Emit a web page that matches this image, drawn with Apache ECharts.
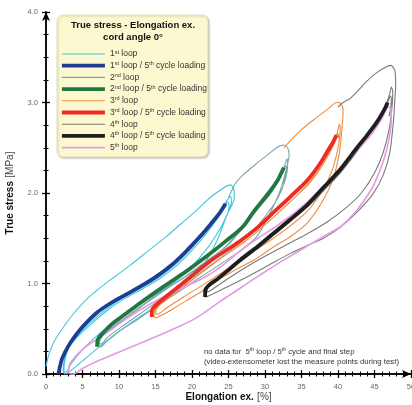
<!DOCTYPE html>
<html><head><meta charset="utf-8">
<script src="https://cdn.jsdelivr.net/npm/echarts@6/dist/echarts.min.js"></script>
<style>html,body{margin:0;padding:0;background:#fff}#c{width:412px;height:405px}</style>
</head><body><div id="c"></div>
<script>
// ---- data (x = elongation %, y = true stress MPa) ----
const seriesNames = ['1st loop','1st loop / 5th cycle loading','2nd loop','2nd loop / 5th cycle loading','3rd loop','3rd loop / 5th cycle loading','4th loop','4th loop / 5th cycle loading','5th loop'];

const loop1 = [[0,0.08],[0.4,0.22],[1.2,0.37],[2.4,0.52],[3.7,0.66],[5.5,0.82],[7.5,0.96],[9.5,1.08],[11.5,1.2],[14,1.36],[16.5,1.52],[18.5,1.66],[20.5,1.8],[22.5,1.95],[24.2,2.05],[25.2,2.09],[25.7,2.05],[25.8,1.95],
 [24.8,1.76],[23.4,1.47],[21.5,1.2],[19,1.0],[16,0.8],[13,0.64],[10.5,0.5],[7,0.28],[4.5,0.11],[3.1,0.02],[2.6,0.0],[2.35,0.04],
 [2.5,0.15],[3.0,0.29],[4.1,0.41],[5.7,0.54],[8,0.7],[10.5,0.84],[13,0.95],[15.5,1.07],[18,1.23],[20.5,1.44],[22.5,1.64],[24.2,1.84],[25,1.94],[25.3,1.96],[25.4,1.9],
 [24.8,1.76],[23.8,1.6],[22,1.38],[19.5,1.15],[17,0.98],[14,0.83],[11,0.67],[8,0.49],[5.5,0.31],[3.5,0.12],[2.7,0.02],[2.45,0.04],
 [2.6,0.16],[3.2,0.3],[4.3,0.41],[5.9,0.53],[8.2,0.69],[10.7,0.83],[13.2,0.94],[15.7,1.06],[18.2,1.22],[20.7,1.43],[22.7,1.63],[24.3,1.82],[24.9,1.9],[25.1,1.86],[24.6,1.72],[23.6,1.57]];
const loop1c5 = [[1.7,0.0],[1.85,0.06],[2.2,0.17],[3,0.3],[4,0.42],[5.1,0.53],[7,0.68],[9,0.79],[11,0.88],[13,0.97],[15,1.07],[17,1.19],[19,1.34],[21,1.51],[22.5,1.65],[23.8,1.78],[24.6,1.88]];
const loop2 = [[25.0,1.95],[25.4,2.02],[25.9,2.1],[27,2.2],[28.9,2.33],[30.5,2.43],[31.6,2.5],[32.5,2.53],[33.1,2.5],[33.3,2.42],[33.0,2.29],[32.1,2.03],[30.7,1.78],[28.9,1.52],[26.6,1.36],[24,1.22],[21,1.06],[18,0.9],[15,0.74],[12.5,0.6],[10,0.47],[8.3,0.36],[7.5,0.3],[7.25,0.32],
 [7.4,0.38],[8.5,0.48],[10.5,0.6],[13,0.75],[16,0.92],[19.3,1.09],[22,1.25],[24.5,1.4],[26.6,1.59],[28.5,1.79],[30.5,1.99],[32.2,2.2],[32.8,2.33],[33.0,2.38],[33.1,2.3],
 [32.8,2.15],[31.8,1.95],[30.2,1.76],[28,1.55],[25.5,1.38],[22.5,1.2],[19.5,1.03],[16.5,0.87],[13.5,0.7],[10.5,0.53],[8.5,0.41],[7.5,0.33],[7.35,0.34],
 [7.5,0.4],[9,0.5],[11,0.62],[13.5,0.77],[16.5,0.94],[19.8,1.11],[22.5,1.27],[25,1.43],[27,1.62],[29,1.82],[31,2.02],[32.4,2.22],[32.8,2.3],[32.9,2.25],[32.5,2.1]];
const loop2c5 = [[7.0,0.3],[7.1,0.38],[8,0.47],[9,0.55],[10.5,0.64],[13,0.79],[16,0.96],[19.3,1.14],[22,1.3],[24.5,1.46],[27,1.63],[28.5,1.8],[30.5,2.0],[31.8,2.15],[32.4,2.25],[32.6,2.28]];
const loop3 = [[32.6,2.5],[33.5,2.58],[35,2.7],[37,2.83],[38.8,2.94],[39.8,3.0],[40.4,2.99],[40.7,2.9],[40.6,2.77],[40.2,2.45],[39.3,2.15],[37.8,1.9],[35.8,1.67],[33.5,1.52],[31.1,1.4],[28.5,1.26],[26.6,1.18],[24,1.06],[21.5,0.92],[19,0.8],[17,0.7],[15.6,0.64],[15.0,0.62],[14.8,0.65],
 [15,0.72],[16.5,0.82],[18.8,0.96],[21,1.1],[23.3,1.24],[26.8,1.44],[29.2,1.59],[31.4,1.75],[33.8,1.93],[36,2.1],[37.8,2.3],[39.5,2.55],[40.0,2.7],[40.2,2.76],[40.3,2.7],
 [40.0,2.5],[39.2,2.25],[37.8,2.02],[35.8,1.8],[33.5,1.64],[30.8,1.48],[28,1.33],[25,1.17],[22,1.01],[19,0.86],[16.5,0.73],[15.2,0.66],[15.0,0.67],
 [15.3,0.74],[17,0.85],[19.2,0.99],[21.5,1.13],[24,1.28],[27.2,1.46],[29.6,1.62],[31.8,1.78],[34.2,1.96],[36.3,2.14],[38,2.33],[39.6,2.58],[40.0,2.66],[40.1,2.6]];
const loop3c5 = [[14.5,0.63],[14.5,0.7],[15.2,0.77],[16.5,0.86],[18.4,0.98],[20.5,1.12],[22.9,1.27],[26.6,1.47],[29,1.62],[31.1,1.78],[33.5,1.96],[35.8,2.14],[37.5,2.32],[38.7,2.48],[39.3,2.56],[39.8,2.64]];
const loop4 = [[40.0,2.95],[40.7,3.0],[41.6,3.04],[42.6,3.12],[44,3.24],[45.3,3.33],[46.5,3.39],[47.2,3.41],[47.8,3.35],[47.9,3.2],[47.8,3.05],[47.6,2.8],[47.1,2.45],[46.2,2.2],[44.8,1.99],[42.5,1.78],[40.3,1.62],[38,1.5],[35.8,1.42],[33.4,1.33],[30,1.18],[27,1.05],[24.5,0.95],[22.5,0.87],[21.9,0.85],[21.8,0.9],
 [22.2,0.97],[23.8,1.06],[26.8,1.25],[29.2,1.4],[31.3,1.54],[33.7,1.7],[36,1.86],[38.2,2.04],[40.5,2.24],[42.8,2.48],[44.2,2.64],[45.5,2.8],[46.6,2.98],[47.1,3.1],[47.3,3.17],[47.5,3.12],
 [47.4,2.95],[47.0,2.7],[46.2,2.45],[45,2.22],[43.2,2.0],[41,1.83],[38.5,1.68],[35.8,1.55],[33,1.43],[30,1.3],[27,1.16],[24.5,1.03],[22.5,0.92],[22.0,0.9],
 [22.4,0.98],[24,1.08],[27,1.27],[29.4,1.42],[31.5,1.56],[33.9,1.72],[36.2,1.88],[38.4,2.06],[40.7,2.27],[43,2.5],[44.4,2.66],[45.7,2.82],[46.8,3.0],[47.2,3.07],[47.3,3.02],[47.0,2.85]];
const loop4c5 = [[21.8,0.85],[21.8,0.92],[22.3,0.98],[23.5,1.05],[25,1.15],[26.6,1.26],[29,1.41],[31.1,1.55],[33.5,1.71],[35.8,1.87],[38,2.06],[40.3,2.26],[42.6,2.5],[44,2.64],[45.3,2.78],[46.4,2.93],[46.8,3.0]];
const loop5 = [[3.2,0.0],[3.1,0.05],[3.4,0.13],[5,0.27],[6.7,0.37],[8.4,0.46],[11,0.61],[14.2,0.77],[17.9,0.92],[20,1.0],[22,1.08],[24.5,1.22],[26.6,1.36],[29,1.5],[31.5,1.63],[34.8,1.83],[37.5,2.03],[39.9,2.22],[42.5,2.46],[44.5,2.64],[46,2.82],[46.9,2.95],[47.2,2.94],
 [47.3,2.8],[47.0,2.6],[46.4,2.4],[45.5,2.2],[44.5,2.03],[42.5,1.8],[40.5,1.64],[38,1.52],[35.5,1.4],[33,1.28],[30,1.13],[27,0.97],[24,0.81],[20.6,0.62],[17,0.48],[13.5,0.36],[10.5,0.26],[7,0.14],[5,0.06],[3.7,0.0],[3.3,0.0]];

const seriesData = [loop1, loop1c5, loop2, loop2c5, loop3, loop3c5, loop4, loop4c5, loop5];
const seriesColors = ['#3ec6da','#1c3f94','#7aa8a8','#22763f','#f08a3a','#ee2a24','#7a7a7a','#1e1e1e','#e39be3'];
const seriesWidths = [1.1,3.8,1.1,3.8,1.1,3.8,1.1,3.8,1.6];

const FONT = '"Liberation Sans", Arial, sans-serif';
const supFmt = s => s.replace(/(\d)(st|nd|rd|th)/g, '$1{s|$2}');

const chart = echarts.init(document.getElementById('c'), null, {renderer:'canvas'});
const axisCommon = {
  axisLine:{show:true, lineStyle:{color:'#000', width:1.5}},
  splitLine:{show:false}
};
const gridBox = {left:46, right:1, top:12, bottom:31, containLabel:false, outerBoundsMode:'none'};
chart.setOption({
  animation:false,
  backgroundColor:'#fff',
  grid:[Object.assign({}, gridBox), Object.assign({}, gridBox)],
  xAxis:[
    Object.assign({type:'value', gridIndex:0, min:0, max:50, interval:5,
      axisTick:{show:true, length:4, lineStyle:{color:'#000', width:1.3}},
      minorTick:{show:true, splitNumber:5, length:2.5, lineStyle:{color:'#000', width:1}},
      axisLabel:{color:'#666', fontSize:7.5, fontFamily:FONT, margin:9},
      name:'{b|Elongation ex.} {n|[%]}', nameLocation:'middle', nameGap:17, nameMoveOverlap:false,
      nameTextStyle:{rich:{b:{fontSize:10, fontWeight:'bold', color:'#111', fontFamily:FONT}, n:{fontSize:10, color:'#444', fontFamily:FONT}}}
    }, axisCommon, {axisLine:{show:true, symbol:['none','arrow'], symbolSize:[6,9], lineStyle:{color:'#000', width:1.5}}}),
    Object.assign({type:'value', gridIndex:1, min:0, max:50, interval:5,
      axisTick:{show:true, inside:true, length:4, lineStyle:{color:'#000', width:1.3}},
      minorTick:{show:true, splitNumber:5, length:2.5, lineStyle:{color:'#000', width:1}},
      axisLabel:{show:false}}, axisCommon)
  ],
  yAxis:[
    Object.assign({type:'value', gridIndex:0, min:0, max:4, interval:1,
      axisTick:{show:true, length:4, lineStyle:{color:'#000', width:1.3}},
      minorTick:{show:true, splitNumber:4, length:2.5, lineStyle:{color:'#000', width:1}},
      axisLabel:{color:'#666', fontSize:7.5, fontFamily:FONT, margin:8, formatter:v=>v.toFixed(1)},
      name:'{b|True stress} {n|[MPa]}', nameLocation:'middle', nameGap:26, nameRotate:90,
      nameTextStyle:{rich:{b:{fontSize:10, fontWeight:'bold', color:'#111', fontFamily:FONT}, n:{fontSize:10, color:'#444', fontFamily:FONT}}}
    }, axisCommon, {axisLine:{show:true, symbol:['none','arrow'], symbolSize:[6,9], lineStyle:{color:'#000', width:1.5}}}),
    Object.assign({type:'value', gridIndex:1, min:0, max:4, interval:1,
      axisTick:{show:true, inside:true, length:4, lineStyle:{color:'#000', width:1.3}},
      minorTick:{show:true, splitNumber:4, length:2.5, lineStyle:{color:'#000', width:1}},
      axisLabel:{show:false}}, axisCommon)
  ],
  legend:{
    data: seriesNames, orient:'vertical', left:60, top:49, itemWidth:43, itemHeight:10, itemGap:1.7,
    padding:0, z:10,
    lineStyle:{width:'inherit'}, itemStyle:{opacity:0},
    formatter: supFmt,
    textStyle:{fontSize:8.5, color:'#333', fontFamily:FONT, lineHeight:10,
      rich:{s:{fontSize:5.5, color:'#333', fontFamily:FONT, verticalAlign:'top', lineHeight:6}}}
  },
  graphic:[
    {type:'rect', z:1, shape:{x:57, y:15, width:151, height:142, r:6},
      style:{fill:'#fcf9d0', stroke:'#e2deb0', lineWidth:0.8, shadowBlur:2, shadowOffsetX:1, shadowOffsetY:1, shadowColor:'rgba(0,0,0,0.25)'}},
    {type:'text', z:11, x:133, y:19, style:{text:'True stress - Elongation ex.\ncord angle 0°', align:'center', verticalAlign:'top',
      font:'bold 9.5px '+FONT, fill:'#111', lineHeight:12}},
    {type:'text', z:11, x:204, y:347, style:{
      text:'no data for  5{s|th} loop / 5{s|th} cycle and final step\n(video-extensometer lost the measure points during test)',
      font:'7.8px '+FONT, fill:'#333', lineHeight:10,
      rich:{s:{fontSize:5, fill:'#333', verticalAlign:'top', lineHeight:5}}}}
  ],
  series: seriesData.map((d,i)=>({
    name: seriesNames[i], type:'line', data:d, xAxisIndex:0, yAxisIndex:0,
    showSymbol:false, symbol:'none', smooth:0.3, clip:false,
    lineStyle:{color:seriesColors[i], width:seriesWidths[i]},
    itemStyle:{color:seriesColors[i]},
    z: seriesWidths[i] > 2 ? 3 : 2
  }))
});
</script>
</body></html>
